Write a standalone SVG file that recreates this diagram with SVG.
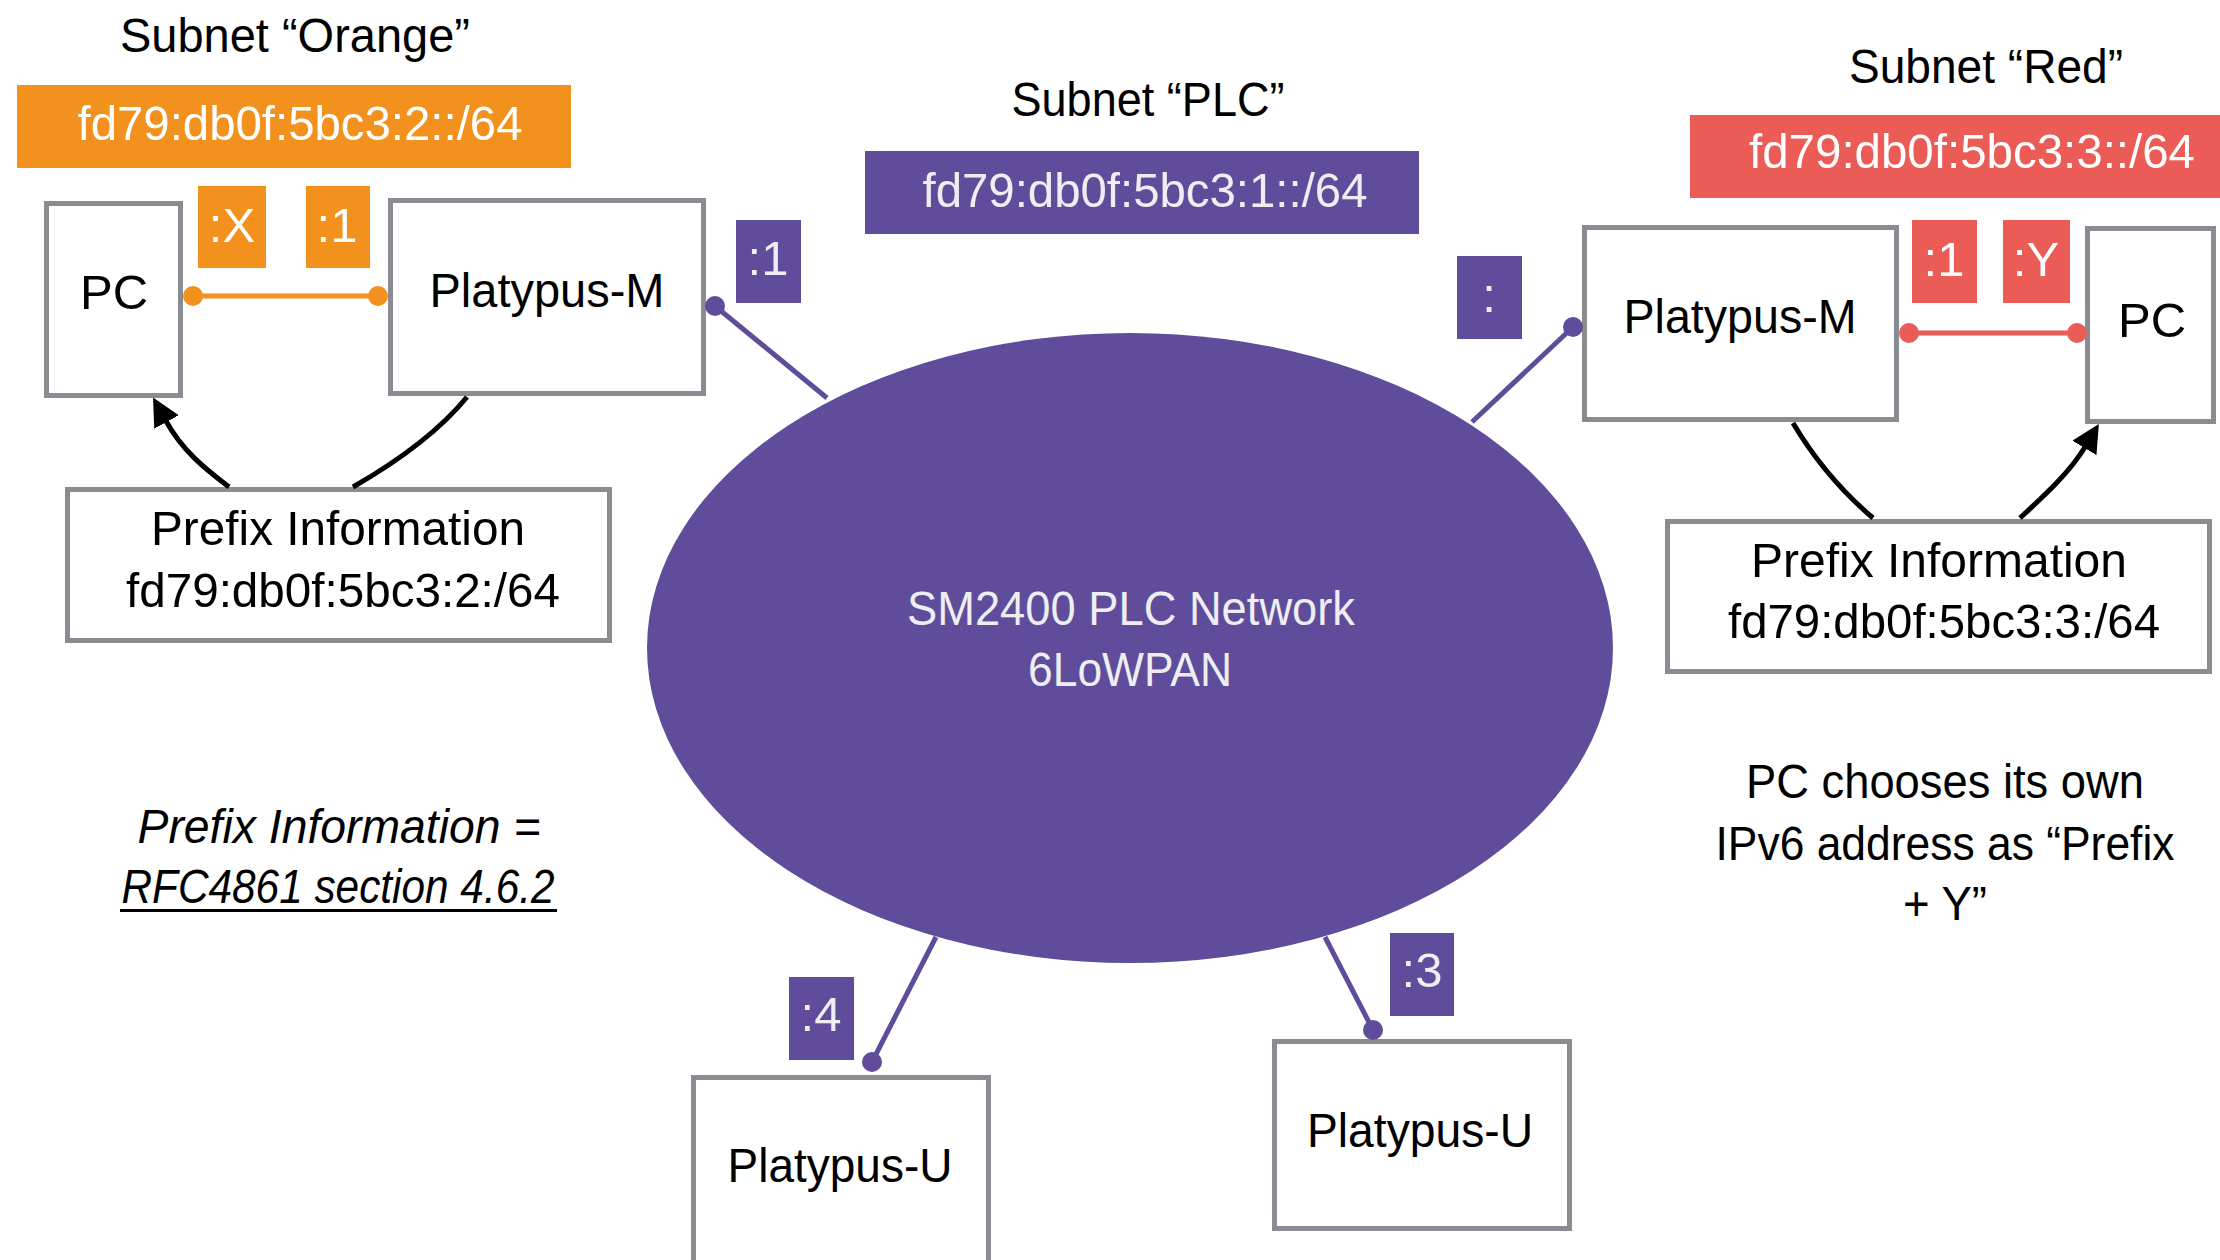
<svg xmlns="http://www.w3.org/2000/svg" width="2220" height="1260" viewBox="0 0 2220 1260">
<style>
text{font-family:"Liberation Sans",Arial,sans-serif;font-size:49px;text-anchor:middle;fill:#000}
.w{fill:#ffffff}
.lt{fill:#eeeef2}
.box{fill:#ffffff;stroke:#898c90;stroke-width:5}
.or{fill:#f3911f}
.rd{fill:#eb5c57}
.pu{fill:#5f4d9b}
.ln{fill:none;stroke-width:5}
.blk{fill:none;stroke:#000;stroke-width:5}
.it{font-style:italic}
</style>
<defs>
<marker id="ah" markerUnits="userSpaceOnUse" markerWidth="28" markerHeight="28" viewBox="0 0 26 26" refX="1" refY="13" orient="auto">
<path d="M0,0 L26,13 L0,26 z" fill="#000"/>
</marker>
</defs>
<rect width="2220" height="1260" fill="#ffffff"/>

<g id="network">
<ellipse cx="1130" cy="648" rx="483" ry="315" class="pu"/>
<text x="1131" y="625" class="lt" textLength="448" lengthAdjust="spacingAndGlyphs">SM2400 PLC Network</text>
<text x="1130" y="686" class="lt" textLength="204" lengthAdjust="spacingAndGlyphs">6LoWPAN</text>
</g>

<g id="subnet-orange">
<text x="295" y="52" textLength="350" lengthAdjust="spacingAndGlyphs">Subnet “Orange”</text>
<rect x="17" y="85" width="554" height="83" class="or"/>
<text x="300" y="140" class="w" textLength="445" lengthAdjust="spacingAndGlyphs">fd79:db0f:5bc3:2::/64</text>
<rect x="198" y="186" width="68" height="82" class="or"/>
<text x="232" y="242" class="w">:X</text>
<rect x="306" y="186" width="64" height="82" class="or"/>
<text x="337" y="242" class="w">:1</text>
</g>

<g id="pc-left">
<rect x="46.5" y="203.5" width="134" height="192" class="box"/>
<text x="114" y="309">PC</text>
</g>

<g id="platypus-m-left">
<rect x="390.5" y="200.5" width="313" height="193" class="box"/>
<text x="547" y="307" textLength="235" lengthAdjust="spacingAndGlyphs">Platypus-M</text>
</g>

<g id="prefix-left">
<rect x="67.5" y="489.5" width="542" height="151" class="box"/>
<text x="338" y="545" textLength="374" lengthAdjust="spacingAndGlyphs">Prefix Information</text>
<text x="343" y="607" textLength="434" lengthAdjust="spacingAndGlyphs">fd79:db0f:5bc3:2:/64</text>
</g>

<g id="subnet-plc">
<text x="1148" y="116" textLength="273" lengthAdjust="spacingAndGlyphs">Subnet “PLC”</text>
<rect x="865" y="151" width="554" height="83" class="pu"/>
<text x="1145" y="207" class="lt" textLength="445" lengthAdjust="spacingAndGlyphs">fd79:db0f:5bc3:1::/64</text>
<rect x="736" y="220" width="65" height="83" class="pu"/>
<text x="768" y="275" class="lt">:1</text>
<rect x="1457" y="256" width="65" height="83" class="pu"/>
<text x="1489" y="312" class="lt">:</text>
<rect x="789" y="977" width="65" height="83" class="pu"/>
<text x="821" y="1031" class="lt">:4</text>
<rect x="1390" y="933" width="64" height="83" class="pu"/>
<text x="1422" y="987" class="lt">:3</text>
</g>

<g id="subnet-red">
<text x="1986" y="83" textLength="274" lengthAdjust="spacingAndGlyphs">Subnet “Red”</text>
<rect x="1690" y="115" width="530" height="83" class="rd"/>
<text x="1972" y="168" class="w" textLength="446" lengthAdjust="spacingAndGlyphs">fd79:db0f:5bc3:3::/64</text>
<rect x="1912" y="220" width="65" height="83" class="rd"/>
<text x="1944" y="276" class="w">:1</text>
<rect x="2003" y="220" width="67" height="83" class="rd"/>
<text x="2036" y="276" class="w">:Y</text>
</g>

<g id="platypus-m-right">
<rect x="1584.5" y="227.5" width="312" height="192" class="box"/>
<text x="1740" y="333" textLength="233" lengthAdjust="spacingAndGlyphs">Platypus-M</text>
</g>

<g id="pc-right">
<rect x="2087.5" y="228.5" width="126" height="193" class="box"/>
<text x="2152" y="337">PC</text>
</g>

<g id="prefix-right">
<rect x="1667.5" y="521.5" width="542" height="150" class="box"/>
<text x="1939" y="577" textLength="376" lengthAdjust="spacingAndGlyphs">Prefix Information</text>
<text x="1944" y="638" textLength="432" lengthAdjust="spacingAndGlyphs">fd79:db0f:5bc3:3:/64</text>
</g>

<g id="platypus-u-left">
<rect x="693.5" y="1077.5" width="295" height="300" class="box"/>
<text x="840" y="1182" textLength="225" lengthAdjust="spacingAndGlyphs">Platypus-U</text>
</g>

<g id="platypus-u-right">
<rect x="1274.5" y="1041.5" width="295" height="187" class="box"/>
<text x="1420" y="1147" textLength="226" lengthAdjust="spacingAndGlyphs">Platypus-U</text>
</g>

<g id="note-left">
<text x="339" y="843" class="it" textLength="403" lengthAdjust="spacingAndGlyphs">Prefix Information =</text>
<text x="338" y="903" class="it" textLength="433" lengthAdjust="spacingAndGlyphs">RFC4861 section 4.6.2</text>
<rect x="120" y="909" width="437" height="3" fill="#000"/>
</g>

<g id="note-right">
<text x="1945" y="798" textLength="398" lengthAdjust="spacingAndGlyphs">PC chooses its own</text>
<text x="1945" y="860" textLength="459" lengthAdjust="spacingAndGlyphs">IPv6 address as “Prefix</text>
<text x="1945" y="920" textLength="84" lengthAdjust="spacingAndGlyphs">+ Y”</text>
</g>

<g id="connectors">
<line x1="193" y1="296" x2="378" y2="296" class="ln" stroke="#f3911f"/>
<circle cx="193" cy="296" r="10" class="or"/>
<circle cx="378" cy="296" r="10" class="or"/>
<line x1="1909" y1="333" x2="2077" y2="333" class="ln" stroke="#eb5c57"/>
<circle cx="1909" cy="333" r="10" class="rd"/>
<circle cx="2077" cy="333" r="10" class="rd"/>
<line x1="715" y1="306" x2="827" y2="398" class="ln" stroke="#5f4d9b"/>
<circle cx="715" cy="306" r="10" class="pu"/>
<line x1="1573" y1="327" x2="1472" y2="422" class="ln" stroke="#5f4d9b"/>
<circle cx="1573" cy="327" r="10" class="pu"/>
<line x1="872" y1="1062" x2="936" y2="937" class="ln" stroke="#5f4d9b"/>
<circle cx="872" cy="1062" r="10" class="pu"/>
<line x1="1373" y1="1030" x2="1325" y2="937" class="ln" stroke="#5f4d9b"/>
<circle cx="1373" cy="1030" r="10" class="pu"/>
<path d="M229,487 C207,470 183,452 166,421" class="blk" marker-end="url(#ah)"/>
<path d="M467,397 C440,430 400,460 353,487" class="blk"/>
<path d="M1793,423 C1815,460 1840,490 1873,518" class="blk"/>
<path d="M2020,518 C2045,495 2070,472 2085,447" class="blk" marker-end="url(#ah)"/>
</g>
</svg>
